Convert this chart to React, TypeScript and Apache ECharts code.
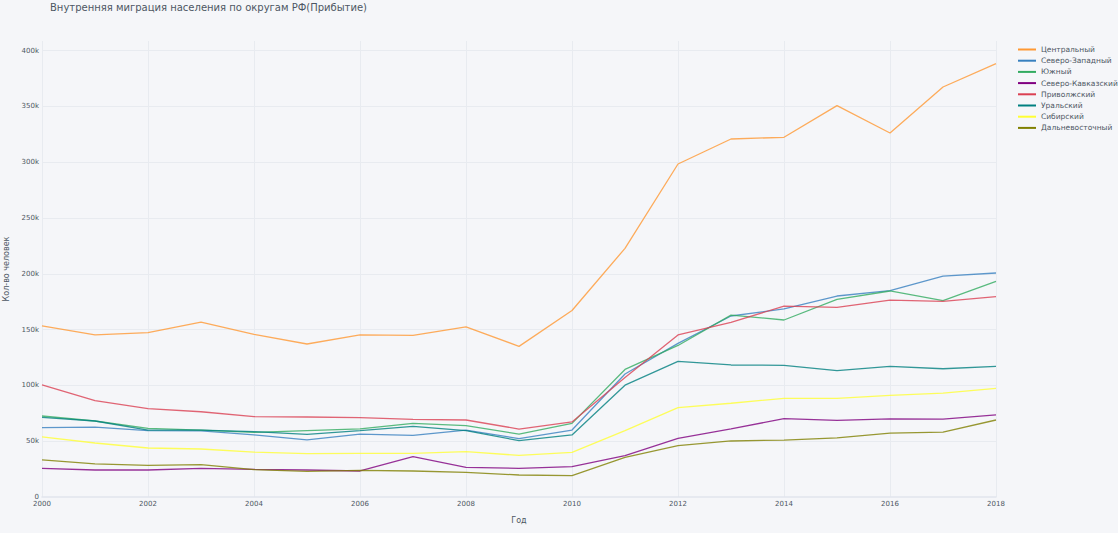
import React, { useEffect, useRef } from "react";
import * as echarts from "echarts";

const years = [2000, 2001, 2002, 2003, 2004, 2005, 2006, 2007, 2008, 2009, 2010, 2011, 2012, 2013, 2014, 2015, 2016, 2017, 2018];

const seriesNames = ["Центральный", "Северо-Западный", "Южный", "Северо-Кавказский", "Приволжский", "Уральский", "Сибирский", "Дальневосточный"];

const central = [153300, 145200, 147300, 156600, 145800, 137100, 145200, 144900, 152400, 135000, 167100, 222800, 298400, 320800, 322300, 350700, 326200, 367400, 388300];
const northWest = [62100, 62700, 59400, 59200, 55600, 51100, 56400, 55300, 60000, 52300, 60000, 110200, 137700, 162200, 168500, 180100, 184900, 198000, 200700];
const south = [72600, 68100, 61500, 60000, 57900, 59400, 61000, 66000, 64000, 56400, 66000, 114300, 135800, 163000, 158600, 177100, 184600, 175900, 193200];
const northCaucasus = [25700, 24200, 24200, 25700, 24800, 24200, 23300, 36100, 26500, 25700, 27200, 37000, 52500, 61000, 70200, 68600, 70000, 69700, 73500];
const volga = [100400, 86300, 79100, 76400, 72000, 71700, 71100, 69600, 69000, 60900, 67300, 107000, 145200, 156500, 171100, 170000, 176500, 175300, 179500];
const ural = [71400, 68100, 60000, 60000, 58500, 56100, 59400, 63300, 59400, 50500, 55600, 100200, 121600, 118300, 118000, 113200, 117100, 114900, 117100];
const siberia = [53800, 48400, 43900, 43000, 40300, 38800, 39100, 39100, 40600, 37300, 40000, 59400, 80000, 84000, 88400, 88400, 91100, 93000, 97400];
const farEast = [33200, 29600, 28400, 29000, 24500, 23000, 23900, 23300, 22100, 19700, 19100, 35600, 46000, 50200, 51000, 52900, 57300, 58200, 69000];

const allValues = [central, northWest, south, northCaucasus, volga, ural, siberia, farEast];

const colors = [
  "rgb(255,153,51)",
  "rgb(55,128,191)",
  "rgb(50,171,96)",
  "rgb(128,0,128)",
  "rgb(219,64,82)",
  "rgb(0,128,128)",
  "rgb(255,255,51)",
  "rgb(128,128,0)",
];

const FONT = "DejaVu Sans";
const TXT = "#4D5663";

export default function App() {
  const ref = useRef<HTMLDivElement>(null);
  useEffect(() => {
    if (!ref.current) return;
    const chart = echarts.init(ref.current, null, { renderer: "svg" });
    chart.setOption({
      animation: false,
      backgroundColor: "#F5F6F9",
      color: colors,
      textStyle: { fontFamily: FONT },
      title: {
        text: "Внутренняя миграция населения по округам РФ(Прибытие)",
        left: 50,
        top: 2.5,
        padding: 0,
        textStyle: { fontFamily: FONT, fontSize: 10, fontWeight: "normal", color: TXT },
      },
      legend: {
        orient: "vertical",
        left: 1018,
        top: 44,
        padding: 0,
        itemGap: 0.2,
        itemWidth: 18,
        itemHeight: 2,
        icon: "rect",
        textStyle: { fontFamily: FONT, fontSize: 7.5, lineHeight: 11, color: TXT },
        data: seriesNames,
      },
      grid: { left: 42, right: 122, top: 41, bottom: 36, containLabel: false, outerBoundsMode: "none" },
      xAxis: {
        type: "value",
        min: 2000,
        max: 2018,
        interval: 2,
        name: "Год",
        nameLocation: "middle",
        nameGap: 19,
        nameTextStyle: { fontFamily: FONT, fontSize: 8, color: TXT },
        axisLine: { show: true, lineStyle: { color: "#E1E5ED", width: 1.5 } },
        axisTick: { show: false },
        axisLabel: { fontFamily: FONT, fontSize: 7, color: TXT, margin: 3, formatter: (v: number) => String(v) },
        splitLine: { show: true, lineStyle: { color: "#E8EBF0", width: 1 } },
      },
      yAxis: {
        type: "value",
        min: 0,
        max: 408600,
        interval: 50000,
        name: "Кол-во человек",
        nameLocation: "middle",
        nameGap: 32,
        nameRotate: 90,
        nameTextStyle: { fontFamily: FONT, fontSize: 8, color: TXT },
        axisLine: { show: false },
        axisTick: { show: false },
        axisLabel: {
          fontFamily: FONT,
          fontSize: 7,
          color: TXT,
          margin: 3,
          showMaxLabel: false,
          formatter: (v: number) => (v === 0 ? "0" : v % 50000 === 0 ? v / 1000 + "k" : ""),
        },
        splitLine: { show: true, showMinLine: false, showMaxLine: false, lineStyle: { color: "#E8EBF0", width: 1 } },
      },
      series: seriesNames.map((name, k) => ({
        name,
        type: "line",
        showSymbol: false,
        symbol: "none",
        data: years.map((y, i) => [y, allValues[k][i]]),
        lineStyle: { width: 1.3, opacity: 0.8 },
        itemStyle: { color: colors[k] },
      })),
    });
    return () => chart.dispose();
  }, []);
  return <div ref={ref} style={{ position: "absolute", left: 0, top: 0, width: 1118, height: 533 }} />;
}
